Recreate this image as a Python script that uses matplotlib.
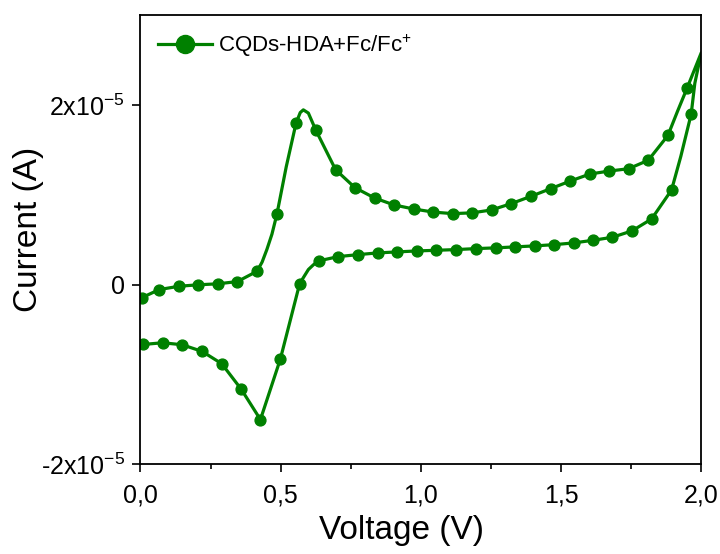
import matplotlib

matplotlib.use("Agg")
import matplotlib.pyplot as plt
from matplotlib.lines import Line2D
from matplotlib.ticker import FixedLocator, MultipleLocator

plt.rcParams["font.family"] = ["Liberation Sans", "DejaVu Sans"]
plt.rcParams["mathtext.fontset"] = "custom"
plt.rcParams["mathtext.rm"] = "Liberation Sans"
plt.rcParams["mathtext.it"] = "Liberation Sans:italic"
plt.rcParams["mathtext.bf"] = "Liberation Sans:bold"
plt.rcParams["mathtext.default"] = "regular"

GREEN = "#008000"
SCALE = 1e-6  # current values below are in microamps

# forward scan (0 -> 2 V), marker points
fwd_v = [0.004, 0.067, 0.138, 0.206, 0.276, 0.346, 0.416, 0.487, 0.555, 0.626,
         0.696, 0.765, 0.835, 0.904, 0.974, 1.045, 1.114, 1.184, 1.252, 1.322,
         1.392, 1.463, 1.533, 1.603, 1.672, 1.741, 1.811, 1.881, 1.950]
fwd_i = [-1.48, -0.56, -0.19, -0.03, 0.08, 0.33, 1.48, 7.86, 17.96, 17.15,
         12.78, 10.78, 9.63, 8.86, 8.41, 8.06, 7.89, 7.98, 8.30, 9.00,
         9.81, 10.67, 11.52, 12.30, 12.63, 12.89, 13.83, 16.59, 21.91]
# extra points on the forward line between markers
fwd_extra_v = [0.0, 0.434, 0.451, 0.469, 0.520, 0.570, 0.581, 0.599, 1.915, 2.0]
fwd_extra_i = [-1.50, 2.50, 3.90, 5.60, 13.10, 19.14, 19.44, 19.08, 19.26, 25.80]

# reverse scan (2 -> 0 V), marker points
rev_v = [1.964, 1.894, 1.823, 1.753, 1.683, 1.613, 1.545, 1.476, 1.406, 1.336,
         1.267, 1.197, 1.126, 1.054, 0.986, 0.916, 0.846, 0.777, 0.706, 0.637,
         0.568, 0.499, 0.428, 0.360, 0.290, 0.220, 0.149, 0.079, 0.010]
rev_i = [18.97, 10.52, 7.30, 5.97, 5.26, 4.92, 4.63, 4.44, 4.30, 4.19,
         4.08, 4.00, 3.89, 3.81, 3.74, 3.63, 3.52, 3.33, 3.11, 2.64,
         0.11, -8.30, -15.03, -11.67, -8.81, -7.44, -6.70, -6.48, -6.67]
rev_extra_v = [2.0, 1.977, 1.927, 0.617, 0.599, 0.0]
rev_extra_i = [25.80, 22.40, 14.26, 2.20, 1.67, -6.60]

x_ticks = [0.0, 0.5, 1.0, 1.5, 2.0]
x_tick_labels = ["0,0", "0,5", "1,0", "1,5", "2,0"]
y_ticks = [-2e-5, 0.0, 2e-5]
y_tick_labels = ["-2x10$^{-5}$", "0", "2x10$^{-5}$"]
legend_label = "CQDs-HDA+Fc/Fc$^{+}$"


def merged(v_main, i_main, v_extra, i_extra, reverse):
    pts = sorted(zip(v_main + v_extra, i_main + i_extra), reverse=reverse)
    return [p[0] for p in pts], [p[1] * SCALE for p in pts]


fig = plt.figure(figsize=(7.2, 5.54), dpi=100)
ax = fig.add_axes([0.195, 0.162, 0.779, 0.811])

fv, fi = merged(fwd_v, fwd_i, fwd_extra_v, fwd_extra_i, False)
rv, ri = merged(rev_v, rev_i, rev_extra_v, rev_extra_i, True)
ax.plot(fv + rv, fi + ri, color=GREEN, linewidth=2.3, solid_joinstyle="round")
ax.plot(fwd_v + rev_v, [i * SCALE for i in fwd_i + rev_i], "o", color=GREEN,
        markersize=7.8, linestyle="none")

ax.set_xlim(0, 2.0)
ax.set_ylim(-2e-5, 3.0e-5)
ax.xaxis.set_major_locator(FixedLocator(x_ticks))
ax.set_xticklabels(x_tick_labels)
ax.xaxis.set_minor_locator(MultipleLocator(0.25))
ax.yaxis.set_major_locator(FixedLocator(y_ticks))
ax.set_yticklabels(y_tick_labels)

ax.tick_params(axis="both", which="major", direction="out", length=6, width=1.2,
               labelsize=18, top=False, right=False)
ax.tick_params(axis="x", which="major", pad=8)
ax.tick_params(axis="y", which="major", pad=5)
ax.tick_params(axis="x", which="minor", direction="out", length=3.5, width=1.2)
for spine in ax.spines.values():
    spine.set_linewidth(1.3)

ax.set_xlabel("Voltage (V)", fontsize=24)
ax.set_ylabel("Current (A)", fontsize=24)
ax.xaxis.set_label_coords(0.466, -0.112)
ax.yaxis.set_label_coords(-0.172, 0.523)

handle = Line2D([], [], color=GREEN, linewidth=2.3, marker="o", markersize=13)
ax.legend([handle], [legend_label], loc="upper left", bbox_to_anchor=(0.0, 1.0),
          frameon=False, fontsize=16, handlelength=2.4, handletextpad=0.3,
          borderaxespad=0.4)

fig.savefig("out.png", dpi=100, facecolor="white")
